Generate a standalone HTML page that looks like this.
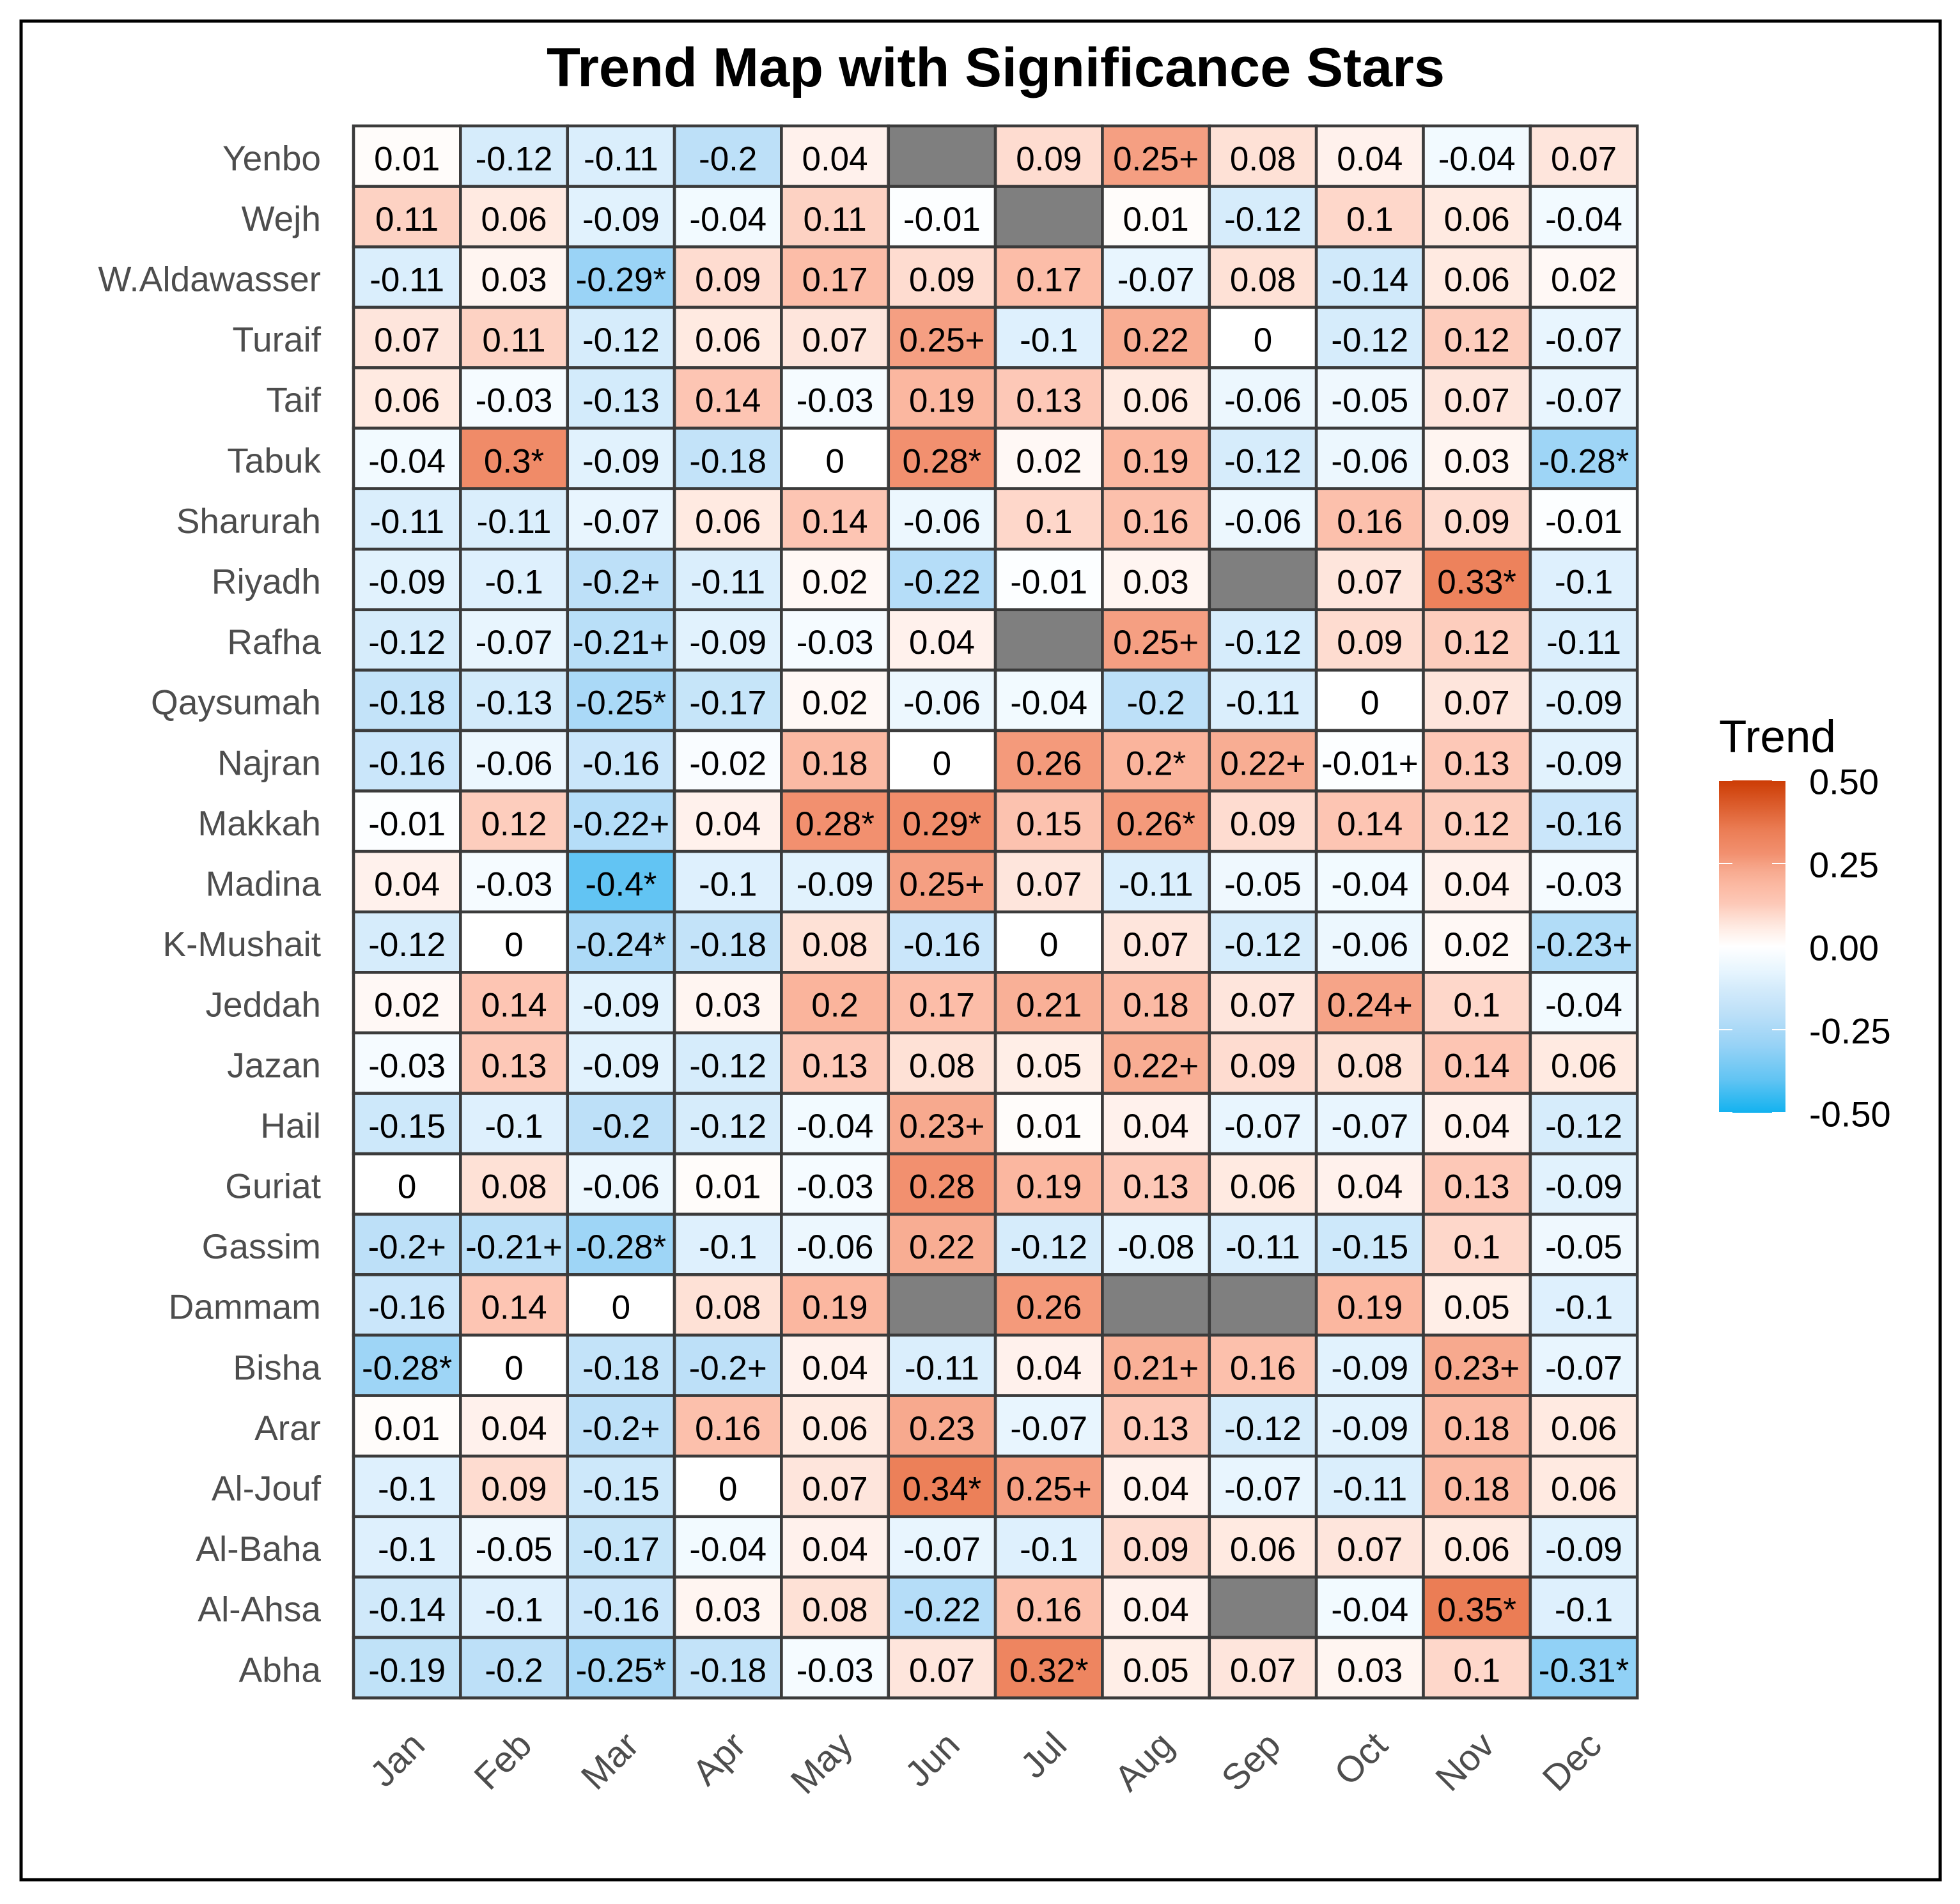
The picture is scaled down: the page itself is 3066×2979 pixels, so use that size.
<!DOCTYPE html>
<html lang="en">
<head>
<meta charset="utf-8">
<title>Trend Map with Significance Stars</title>
<style>
  html, body { margin: 0; padding: 0; background: #ffffff; }
  svg { display: block; font-family: "Liberation Sans", Arial, sans-serif; }
</style>
</head>
<body>
<svg id="chart" xmlns="http://www.w3.org/2000/svg" width="3066" height="2979" viewBox="0 0 3066 2979">
  <rect x="0" y="0" width="3066" height="2979" fill="#ffffff"/>
  <rect x="33" y="33" width="3002" height="2908" fill="none" stroke="#000000" stroke-width="5"/>
  <text x="855" y="135" font-size="86.6" font-weight="700" fill="#000000">Trend Map with Significance Stars</text>
  <g id="panel"></g>
  <g id="yAxis"></g>
  <g id="xAxis"></g>
  <g id="legend"></g>
</svg>
<script>
const months = ["Jan","Feb","Mar","Apr","May","Jun","Jul","Aug","Sep","Oct","Nov","Dec"];
const stations = ["Yenbo","Wejh","W.Aldawasser","Turaif","Taif","Tabuk","Sharurah","Riyadh","Rafha","Qaysumah","Najran","Makkah","Madina","K-Mushait","Jeddah","Jazan","Hail","Guriat","Gassim","Dammam","Bisha","Arar","Al-Jouf","Al-Baha","Al-Ahsa","Abha"];
const trendValues = [
  [0.01,-0.12,-0.11,-0.2,0.04,null,0.09,0.25,0.08,0.04,-0.04,0.07],
  [0.11,0.06,-0.09,-0.04,0.11,-0.01,null,0.01,-0.12,0.1,0.06,-0.04],
  [-0.11,0.03,-0.29,0.09,0.17,0.09,0.17,-0.07,0.08,-0.14,0.06,0.02],
  [0.07,0.11,-0.12,0.06,0.07,0.25,-0.1,0.22,0,-0.12,0.12,-0.07],
  [0.06,-0.03,-0.13,0.14,-0.03,0.19,0.13,0.06,-0.06,-0.05,0.07,-0.07],
  [-0.04,0.3,-0.09,-0.18,0,0.28,0.02,0.19,-0.12,-0.06,0.03,-0.28],
  [-0.11,-0.11,-0.07,0.06,0.14,-0.06,0.1,0.16,-0.06,0.16,0.09,-0.01],
  [-0.09,-0.1,-0.2,-0.11,0.02,-0.22,-0.01,0.03,null,0.07,0.33,-0.1],
  [-0.12,-0.07,-0.21,-0.09,-0.03,0.04,null,0.25,-0.12,0.09,0.12,-0.11],
  [-0.18,-0.13,-0.25,-0.17,0.02,-0.06,-0.04,-0.2,-0.11,0,0.07,-0.09],
  [-0.16,-0.06,-0.16,-0.02,0.18,0,0.26,0.2,0.22,-0.01,0.13,-0.09],
  [-0.01,0.12,-0.22,0.04,0.28,0.29,0.15,0.26,0.09,0.14,0.12,-0.16],
  [0.04,-0.03,-0.4,-0.1,-0.09,0.25,0.07,-0.11,-0.05,-0.04,0.04,-0.03],
  [-0.12,0,-0.24,-0.18,0.08,-0.16,0,0.07,-0.12,-0.06,0.02,-0.23],
  [0.02,0.14,-0.09,0.03,0.2,0.17,0.21,0.18,0.07,0.24,0.1,-0.04],
  [-0.03,0.13,-0.09,-0.12,0.13,0.08,0.05,0.22,0.09,0.08,0.14,0.06],
  [-0.15,-0.1,-0.2,-0.12,-0.04,0.23,0.01,0.04,-0.07,-0.07,0.04,-0.12],
  [0,0.08,-0.06,0.01,-0.03,0.28,0.19,0.13,0.06,0.04,0.13,-0.09],
  [-0.2,-0.21,-0.28,-0.1,-0.06,0.22,-0.12,-0.08,-0.11,-0.15,0.1,-0.05],
  [-0.16,0.14,0,0.08,0.19,null,0.26,null,null,0.19,0.05,-0.1],
  [-0.28,0,-0.18,-0.2,0.04,-0.11,0.04,0.21,0.16,-0.09,0.23,-0.07],
  [0.01,0.04,-0.2,0.16,0.06,0.23,-0.07,0.13,-0.12,-0.09,0.18,0.06],
  [-0.1,0.09,-0.15,0,0.07,0.34,0.25,0.04,-0.07,-0.11,0.18,0.06],
  [-0.1,-0.05,-0.17,-0.04,0.04,-0.07,-0.1,0.09,0.06,0.07,0.06,-0.09],
  [-0.14,-0.1,-0.16,0.03,0.08,-0.22,0.16,0.04,null,-0.04,0.35,-0.1],
  [-0.19,-0.2,-0.25,-0.18,-0.03,0.07,0.32,0.05,0.07,0.03,0.1,-0.31]
];
const significance = [
  ["","","","","","","","+","","","",""],
  ["","","","","","","","","","","",""],
  ["","","*","","","","","","","","",""],
  ["","","","","","+","","","","","",""],
  ["","","","","","","","","","","",""],
  ["","*","","","","*","","","","","","*"],
  ["","","","","","","","","","","",""],
  ["","","+","","","","","","","","*",""],
  ["","","+","","","","","+","","","",""],
  ["","","*","","","","","","","","",""],
  ["","","","","","","","*","+","+","",""],
  ["","","+","","*","*","","*","","","",""],
  ["","","*","","","+","","","","","",""],
  ["","","*","","","","","","","","","+"],
  ["","","","","","","","","","+","",""],
  ["","","","","","","","+","","","",""],
  ["","","","","","+","","","","","",""],
  ["","","","","","","","","","","",""],
  ["+","+","*","","","","","","","","",""],
  ["","","","","","","","","","","",""],
  ["*","","","+","","","","+","","","+",""],
  ["","","+","","","","","","","","",""],
  ["","","","","","*","+","","","","",""],
  ["","","","","","","","","","","",""],
  ["","","","","","","","","","","*",""],
  ["","","*","","","","*","","","","","*"]
];
const legendTicks = [0.5, 0.25, 0, -0.25, -0.5];
const legendTickLabels = ["0.50", "0.25", "0.00", "-0.25", "-0.50"];
const colorDomain = [-0.5,-0.4,-0.3,-0.2,-0.12,-0.08,0,0.05,0.08,0.13,0.19,0.23,0.28,0.35,0.5];
const colorRange = ["#12b2ef","#62c4f3","#96d2f6","#bde0f8","#d6ecfb","#e5f4fe","#ffffff","#ffeee7","#fee1d6","#fdc8b7","#fbb7a0","#f7a98e","#f2906f","#eb7d55","#cc3c04"];

const NS = "http://www.w3.org/2000/svg";
const panelLeft = 553, panelTop = 197, colStep = 167.35, rowStep = 94.6;
const legendLeft = 2689, legendWidth = 104, legendTop = 1221, legendBottom = 1741;

function xScale(i) { return panelLeft + i * colStep; }
function yScale(i) { return panelTop + i * rowStep; }
function legendScale(v) { return legendTop + (0.5 - v) / 1 * (legendBottom - legendTop); }
function hexToRgb(h) { return [1, 3, 5].map(function (p) { return parseInt(h.substr(p, 2), 16); }); }
function fillColor(v) {
  if (v === null) return "#7f7f7f";
  const c = Math.max(-0.5, Math.min(0.5, v));
  for (let k = 0; k < colorDomain.length - 1; k++) {
    if (c <= colorDomain[k + 1]) {
      const t = (c - colorDomain[k]) / (colorDomain[k + 1] - colorDomain[k]);
      const a = hexToRgb(colorRange[k]), b = hexToRgb(colorRange[k + 1]);
      return "rgb(" + a.map(function (x, j) { return Math.round(x + (b[j] - x) * t); }).join(",") + ")";
    }
  }
  return colorRange[colorRange.length - 1];
}
function make(tag, parent, attrs, txt) {
  const el = document.createElementNS(NS, tag);
  Object.keys(attrs).forEach(function (k) { el.setAttribute(k, attrs[k]); });
  if (txt !== undefined) el.textContent = txt;
  parent.appendChild(el);
  return el;
}

const panel = document.getElementById("panel");
const yAxis = document.getElementById("yAxis");
const xAxis = document.getElementById("xAxis");
const legend = document.getElementById("legend");

trendValues.forEach(function (row, r) {
  row.forEach(function (v, c) {
    const cell = make("rect", panel, { x: xScale(c), y: yScale(r), width: colStep, height: rowStep, fill: fillColor(v), stroke: "#3b3b3b", "stroke-width": 4.6 });
    
    
  });
});
trendValues.forEach(function (row, r) {
  row.forEach(function (v, c) {
    if (v === null) return;
    const label = make("text", panel, { x: xScale(c) + colStep / 2, y: yScale(r) + rowStep / 2 + 22, "font-size": 53, "text-anchor": "middle", fill: "#000000" }, String(v) + significance[r][c]);
    
    
  });
});

stations.forEach(function (s, r) {
  const t = make("text", yAxis, { x: 502, y: yScale(r) + rowStep / 2 + 22, "font-size": 55, "text-anchor": "end", fill: "#4d4d4d" }, s);
  
  
});

months.forEach(function (m, c) {
  const px = xScale(c) + colStep / 2 + 31, py = 2734;
  const t = make("text", xAxis, { transform: "translate(" + px + "," + py + ") rotate(-45)", "font-size": 57, "text-anchor": "end", fill: "#4d4d4d" }, m);
  
  
});

const legendTitle = make("text", legend, { x: legendLeft, y: 1177, "font-size": 71, fill: "#000000" }, "Trend");



const defs = make("defs", legend, {});
const grad = make("linearGradient", defs, { id: "trendGradient", x1: 0, y1: 0, x2: 0, y2: 1 });
colorDomain.slice().reverse().forEach(function (v) {
  make("stop", grad, { offset: (0.5 - v), "stop-color": fillColor(v) });
});
const bar = make("rect", legend, { x: legendLeft, y: legendTop, width: legendWidth, height: legendBottom - legendTop, fill: "url(#trendGradient)" });



legendTicks.forEach(function (v, i) {
  const y = legendScale(v);
  const t1 = make("line", legend, { x1: legendLeft, x2: legendLeft + 21, y1: y, y2: y, stroke: "#ffffff", "stroke-width": 2 });
  
  
  const t2 = make("line", legend, { x1: legendLeft + legendWidth - 21, x2: legendLeft + legendWidth, y1: y, y2: y, stroke: "#ffffff", "stroke-width": 2 });
  
  
  const lab = make("text", legend, { x: 2830, y: y + 21.5, "font-size": 56, fill: "#000000" }, legendTickLabels[i]);
  
  
});
</script>
</body>
</html>
